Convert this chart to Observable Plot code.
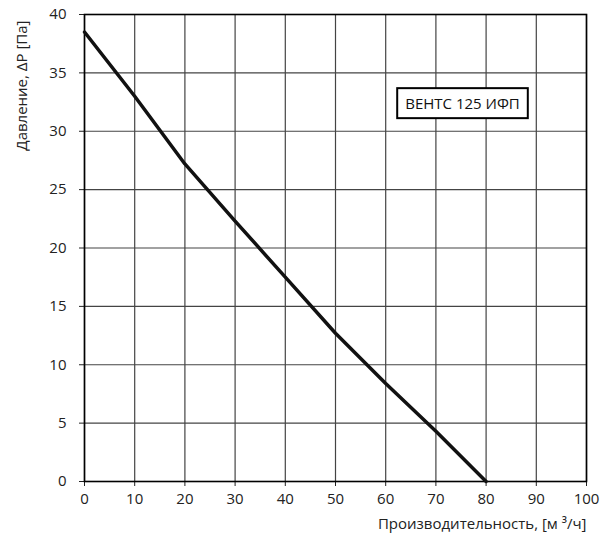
<!DOCTYPE html>
<html>
<head>
<meta charset="utf-8">
<script src="https://cdn.jsdelivr.net/npm/d3@7"></script>
<script src="https://cdn.jsdelivr.net/npm/@observablehq/plot@0.6"></script>
<style>
  html, body { margin: 0; padding: 0; background: #fff; }
  svg { display: block; }
</style>
</head>
<body>
<div id="chart"></div>
<script>
// Data
const flow = [0, 10, 20, 30, 40, 50, 60, 70, 80];          // м³/ч
const pressure = [38.5, 33.0, 27.2, 22.3, 17.5, 12.7, 8.4, 4.3, 0]; // Па
const xTicks = [0, 10, 20, 30, 40, 50, 60, 70, 80, 90, 100];
const yTicks = [0, 5, 10, 15, 20, 25, 30, 35, 40];
const seriesName = "ВЕНТС 125 ИФП";
const xLabel = "Производительность, [м ³/ч]";
const yLabel = "Давление, ΔР [Па]";

const rows = flow.map((f, i) => ({flow: f, pressure: pressure[i]}));

const chart = Plot.plot({
  width: 600,
  height: 548,
  marginLeft: 84,
  marginRight: 14,
  marginTop: 14,
  marginBottom: 67,
  style: {fontFamily: "'Open Sans', 'Noto Sans', sans-serif", fontSize: "15px", color: "#222", background: "#fff"},
  x: {domain: [0, 100]},
  y: {domain: [0, 40]},
  marks: [
    Plot.gridX(xTicks, {stroke: "#444", strokeOpacity: 1, strokeWidth: 1.2}),
    Plot.gridY(yTicks, {stroke: "#444", strokeOpacity: 1, strokeWidth: 1.2}),
    Plot.axisX(xTicks, {tickSize: 5, tickPadding: 7, label: null, fontSize: 15, stroke: "#222"}),
    Plot.axisY(yTicks, {tickSize: 5, tickPadding: 13, label: null, fontSize: 15, stroke: "#222"}),
    Plot.frame({stroke: "#000", strokeWidth: 1.6}),
    Plot.line(rows, {x: "flow", y: "pressure", stroke: "#111", strokeWidth: 3.5, strokeLinejoin: "round"}),
    Plot.text([yLabel], {frameAnchor: "top-left", text: d => d, rotate: -90, textAnchor: "end", dx: -68, dy: 6, fontSize: 15, fill: "#222"}),
    Plot.text([xLabel], {frameAnchor: "bottom-right", text: d => d, textAnchor: "end", dx: 0, dy: 47, fontSize: 15, fill: "#222"}),
    Plot.text([seriesName], {frameAnchor: "top-right", text: d => d, textAnchor: "middle", dx: -124, dy: 84, fontSize: 15, fill: "#111", className: "series-label"})
  ]
});

document.getElementById("chart").appendChild(chart);

// Box around series label
const lbl = chart.querySelector(".series-label text");
if (lbl) {
  const r = lbl.getBoundingClientRect();
  const s = chart.getBoundingClientRect();
  const padX = 8, padY = 5;
  const x0 = r.left - s.left - padX, y0 = r.top - s.top - padY;
  d3.select(chart).insert("rect", ".series-label")
    .attr("x", x0).attr("y", y0)
    .attr("width", r.width + 2 * padX).attr("height", r.height + 2 * padY)
    .attr("fill", "#fff").attr("stroke", "#000").attr("stroke-width", 2);
}
</script>
</body>
</html>
